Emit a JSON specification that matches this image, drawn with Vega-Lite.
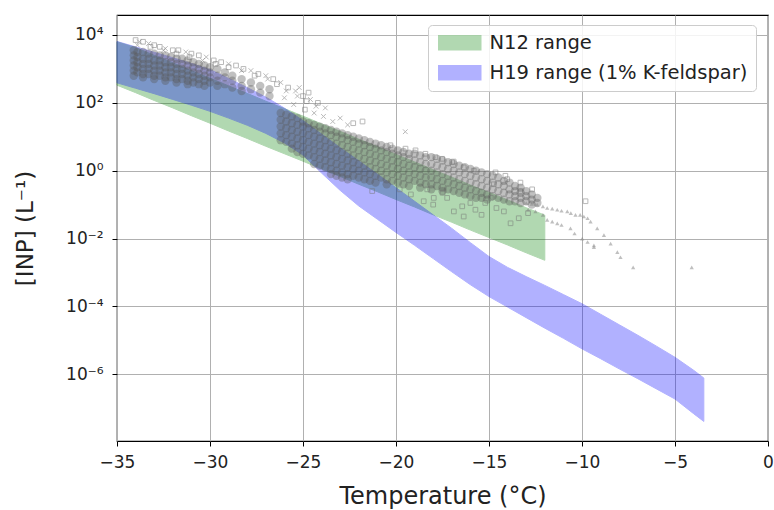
{
"$schema":"https://vega.github.io/schema/vega-lite/v6.json",
"width":651,"height":426,
"autosize":{"type":"none"},
"padding":{"left":117,"top":15,"right":6,"bottom":69},
"background":"white",
"config":{
"font":"DejaVu Sans",
"view":{"stroke":"#000000","strokeWidth":1.2},
"axis":{"grid":true,"gridColor":"#b0b0b0","gridWidth":1,"domain":false,"tickColor":"#000000","tickSize":5,"tickWidth":1,"labelColor":"#222222","titleColor":"#222222","labelFont":"DejaVu Sans","titleFont":"DejaVu Sans","titleFontWeight":"normal","labelFontSize":17,"titleFontSize":23,"zindex":1,"labelFlush":false}
},
"datasets":{
"bands":[
{"band":"N12 range","T":-35,"v":331.1,"v2":6310},
{"band":"N12 range","T":-34,"v":199.5,"v2":4266},
{"band":"N12 range","T":-33,"v":117.5,"v2":2512},
{"band":"N12 range","T":-32,"v":70.79,"v2":1514},
{"band":"N12 range","T":-31,"v":41.69,"v2":891.3},
{"band":"N12 range","T":-30,"v":25.12,"v2":537.0},
{"band":"N12 range","T":-29,"v":14.79,"v2":316.2},
{"band":"N12 range","T":-28,"v":8.913,"v2":190.5},
{"band":"N12 range","T":-27,"v":5.248,"v2":112.2},
{"band":"N12 range","T":-26,"v":3.162,"v2":67.61},
{"band":"N12 range","T":-25,"v":1.905,"v2":40.74},
{"band":"N12 range","T":-24,"v":1.122,"v2":23.99},
{"band":"N12 range","T":-23,"v":0.6761,"v2":14.45},
{"band":"N12 range","T":-22,"v":0.3981,"v2":8.511},
{"band":"N12 range","T":-21,"v":0.2399,"v2":5.129},
{"band":"N12 range","T":-20,"v":0.1413,"v2":3.020},
{"band":"N12 range","T":-19,"v":0.08511,"v2":1.820},
{"band":"N12 range","T":-18,"v":0.05012,"v2":1.072},
{"band":"N12 range","T":-17,"v":0.03020,"v2":0.6457},
{"band":"N12 range","T":-16,"v":0.01778,"v2":0.3802},
{"band":"N12 range","T":-15,"v":0.01072,"v2":0.2291},
{"band":"N12 range","T":-14,"v":0.006457,"v2":0.1380},
{"band":"N12 range","T":-13,"v":0.003802,"v2":0.08128},
{"band":"N12 range","T":-12,"v":0.002291,"v2":0.04898},
{"band":"H19 range (1% K-feldspar)","T":-35,"v":389.0,"v2":6457},
{"band":"H19 range (1% K-feldspar)","T":-34,"v":269.2,"v2":4467},
{"band":"H19 range (1% K-feldspar)","T":-33,"v":186.2,"v2":3090},
{"band":"H19 range (1% K-feldspar)","T":-32,"v":125.9,"v2":2138},
{"band":"H19 range (1% K-feldspar)","T":-31,"v":85.11,"v2":1445},
{"band":"H19 range (1% K-feldspar)","T":-30,"v":56.23,"v2":955.0},
{"band":"H19 range (1% K-feldspar)","T":-29,"v":35.48,"v2":524.8},
{"band":"H19 range (1% K-feldspar)","T":-28,"v":21.88,"v2":281.8},
{"band":"H19 range (1% K-feldspar)","T":-27,"v":12.59,"v2":147.9},
{"band":"H19 range (1% K-feldspar)","T":-26,"v":6.607,"v2":70.0},
{"band":"H19 range (1% K-feldspar)","T":-25,"v":2.884,"v2":30.0},
{"band":"H19 range (1% K-feldspar)","T":-24,"v":0.8511,"v2":12.0},
{"band":"H19 range (1% K-feldspar)","T":-23,"v":0.2630,"v2":4.786},
{"band":"H19 range (1% K-feldspar)","T":-22,"v":0.09120,"v2":1.950},
{"band":"H19 range (1% K-feldspar)","T":-21,"v":0.03715,"v2":0.7943},
{"band":"H19 range (1% K-feldspar)","T":-20,"v":0.01514,"v2":0.3162},
{"band":"H19 range (1% K-feldspar)","T":-19,"v":0.006310,"v2":0.1259},
{"band":"H19 range (1% K-feldspar)","T":-18,"v":0.002570,"v2":0.05012},
{"band":"H19 range (1% K-feldspar)","T":-17,"v":0.001047,"v2":0.01995},
{"band":"H19 range (1% K-feldspar)","T":-16,"v":4.365e-4,"v2":7.586e-3},
{"band":"H19 range (1% K-feldspar)","T":-15,"v":1.950e-4,"v2":2.951e-3},
{"band":"H19 range (1% K-feldspar)","T":-14,"v":9.550e-5,"v2":1.413e-3},
{"band":"H19 range (1% K-feldspar)","T":-13,"v":4.677e-5,"v2":7.586e-4},
{"band":"H19 range (1% K-feldspar)","T":-12,"v":2.291e-5,"v2":4.169e-4},
{"band":"H19 range (1% K-feldspar)","T":-11,"v":1.148e-5,"v2":2.239e-4},
{"band":"H19 range (1% K-feldspar)","T":-10,"v":5.623e-6,"v2":1.202e-4},
{"band":"H19 range (1% K-feldspar)","T":-9,"v":2.884e-6,"v2":5.888e-5},
{"band":"H19 range (1% K-feldspar)","T":-8,"v":1.445e-6,"v2":2.884e-5},
{"band":"H19 range (1% K-feldspar)","T":-7,"v":7.413e-7,"v2":1.413e-5},
{"band":"H19 range (1% K-feldspar)","T":-6,"v":3.715e-7,"v2":6.761e-6},
{"band":"H19 range (1% K-feldspar)","T":-5,"v":1.862e-7,"v2":3.162e-6},
{"band":"H19 range (1% K-feldspar)","T":-4,"v":6.918e-8,"v2":1.318e-6},
{"band":"H19 range (1% K-feldspar)","T":-3.45,"v":4.074e-8,"v2":7.762e-7}
],
"points":[
{"T":-34.1,"v":3550,"m":"f"},{"T":-34.1,"v":2510,"m":"f"},{"T":-34.1,"v":1780,"m":"f"},{"T":-34.1,"v":1260,"m":"f"},{"T":-34.1,"v":891,"m":"f"},{"T":-34.1,"v":631,"m":"f"},
{"T":-33.9,"v":3160,"m":"f"},{"T":-33.9,"v":2240,"m":"f"},{"T":-33.9,"v":1580,"m":"f"},{"T":-33.9,"v":1120,"m":"f"},{"T":-33.9,"v":794,"m":"f"},
{"T":-33.6,"v":3160,"m":"f"},{"T":-33.6,"v":2000,"m":"f"},{"T":-33.6,"v":1410,"m":"f"},{"T":-33.6,"v":1000,"m":"f"},{"T":-33.6,"v":708,"m":"f"},{"T":-33.6,"v":562,"m":"f"},
{"T":-33.3,"v":2820,"m":"f"},{"T":-33.3,"v":2000,"m":"f"},{"T":-33.3,"v":1410,"m":"f"},{"T":-33.3,"v":1000,"m":"f"},{"T":-33.3,"v":708,"m":"f"},
{"T":-33.0,"v":2820,"m":"f"},{"T":-33.0,"v":1780,"m":"f"},{"T":-33.0,"v":1260,"m":"f"},{"T":-33.0,"v":891,"m":"f"},{"T":-33.0,"v":631,"m":"f"},{"T":-33.0,"v":501,"m":"f"},
{"T":-32.7,"v":2510,"m":"f"},{"T":-32.7,"v":1780,"m":"f"},{"T":-32.7,"v":1260,"m":"f"},{"T":-32.7,"v":891,"m":"f"},{"T":-32.7,"v":631,"m":"f"},
{"T":-32.4,"v":2510,"m":"f"},{"T":-32.4,"v":1580,"m":"f"},{"T":-32.4,"v":1120,"m":"f"},{"T":-32.4,"v":794,"m":"f"},{"T":-32.4,"v":562,"m":"f"},{"T":-32.4,"v":447,"m":"f"},
{"T":-32.1,"v":2240,"m":"f"},{"T":-32.1,"v":1580,"m":"f"},{"T":-32.1,"v":1120,"m":"f"},{"T":-32.1,"v":794,"m":"f"},{"T":-32.1,"v":562,"m":"f"},
{"T":-31.8,"v":2000,"m":"f"},{"T":-31.8,"v":1410,"m":"f"},{"T":-31.8,"v":1000,"m":"f"},{"T":-31.8,"v":708,"m":"f"},{"T":-31.8,"v":501,"m":"f"},{"T":-31.8,"v":398,"m":"f"},
{"T":-31.5,"v":2000,"m":"f"},{"T":-31.5,"v":1410,"m":"f"},{"T":-31.5,"v":1000,"m":"f"},{"T":-31.5,"v":708,"m":"f"},{"T":-31.5,"v":501,"m":"f"},
{"T":-31.2,"v":1780,"m":"f"},{"T":-31.2,"v":1260,"m":"f"},{"T":-31.2,"v":891,"m":"f"},{"T":-31.2,"v":631,"m":"f"},{"T":-31.2,"v":447,"m":"f"},{"T":-31.2,"v":355,"m":"f"},
{"T":-30.9,"v":1580,"m":"f"},{"T":-30.9,"v":1120,"m":"f"},{"T":-30.9,"v":794,"m":"f"},{"T":-30.9,"v":562,"m":"f"},{"T":-30.9,"v":398,"m":"f"},
{"T":-30.6,"v":1410,"m":"f"},{"T":-30.6,"v":1000,"m":"f"},{"T":-30.6,"v":708,"m":"f"},{"T":-30.6,"v":501,"m":"f"},{"T":-30.6,"v":355,"m":"f"},
{"T":-30.3,"v":1260,"m":"f"},{"T":-30.3,"v":891,"m":"f"},{"T":-30.3,"v":631,"m":"f"},{"T":-30.3,"v":447,"m":"f"},{"T":-30.3,"v":316,"m":"f"},
{"T":-30.0,"v":1120,"m":"f"},{"T":-30.0,"v":794,"m":"f"},{"T":-30.0,"v":562,"m":"f"},{"T":-30.0,"v":398,"m":"f"},
{"T":-29.6,"v":1000,"m":"f"},{"T":-29.6,"v":631,"m":"f"},{"T":-29.6,"v":447,"m":"f"},{"T":-29.6,"v":316,"m":"f"},
{"T":-29.2,"v":794,"m":"f"},{"T":-29.2,"v":562,"m":"f"},{"T":-29.2,"v":355,"m":"f"},
{"T":-28.8,"v":631,"m":"f"},{"T":-28.8,"v":447,"m":"f"},{"T":-28.8,"v":282,"m":"f"},
{"T":-28.3,"v":501,"m":"f"},{"T":-28.3,"v":316,"m":"f"},{"T":-28.3,"v":224,"m":"f"},
{"T":-27.8,"v":398,"m":"f"},{"T":-27.8,"v":251,"m":"f"},
{"T":-27.3,"v":316,"m":"f"},{"T":-27.3,"v":200,"m":"f"},
{"T":-26.8,"v":251,"m":"f"},{"T":-26.8,"v":158,"m":"f"},
{"T":-34.0,"v":7080,"m":"o"},{"T":-33.8,"v":6310,"m":"x"},{"T":-33.6,"v":6310,"m":"o"},{"T":-33.3,"v":5620,"m":"x"},{"T":-33.0,"v":5010,"m":"o"},{"T":-32.7,"v":4470,"m":"o"},{"T":-32.4,"v":3980,"m":"x"},{"T":-32.0,"v":3550,"m":"o"},{"T":-31.7,"v":3550,"m":"o"},{"T":-31.3,"v":3160,"m":"x"},{"T":-31.0,"v":2820,"m":"o"},{"T":-30.6,"v":2510,"m":"o"},{"T":-30.2,"v":2240,"m":"x"},{"T":-29.8,"v":1780,"m":"o"},{"T":-29.4,"v":1580,"m":"o"},{"T":-29.0,"v":1410,"m":"x"},{"T":-28.6,"v":1260,"m":"o"},{"T":-28.2,"v":1000,"m":"o"},{"T":-27.8,"v":891,"m":"x"},{"T":-27.4,"v":708,"m":"o"},{"T":-27.0,"v":631,"m":"x"},{"T":-26.6,"v":501,"m":"o"},{"T":-26.2,"v":398,"m":"x"},{"T":-25.8,"v":282,"m":"o"},{"T":-25.4,"v":224,"m":"x"},{"T":-25.0,"v":158,"m":"o"},{"T":-24.6,"v":126,"m":"x"},{"T":-24.2,"v":100,"m":"o"},{"T":-23.8,"v":70.8,"m":"x"},{"T":-23.4,"v":28.2,"m":"x"},{"T":-22.6,"v":22.4,"m":"x"},{"T":-21.8,"v":28.2,"m":"o"},{"T":-19.5,"v":14.1,"m":"x"},
{"T":-33.9,"v":5010,"m":"x"},{"T":-33.2,"v":4470,"m":"o"},{"T":-32.5,"v":3550,"m":"x"},{"T":-31.8,"v":2820,"m":"o"},{"T":-31.1,"v":2240,"m":"o"},{"T":-30.4,"v":1780,"m":"x"},{"T":-29.7,"v":1410,"m":"o"},{"T":-29.0,"v":1120,"m":"o"},{"T":-28.3,"v":891,"m":"x"},{"T":-27.6,"v":631,"m":"o"},{"T":-26.9,"v":501,"m":"x"},{"T":-26.4,"v":355,"m":"o"},{"T":-25.9,"v":224,"m":"x"},{"T":-25.3,"v":158,"m":"x"},{"T":-24.8,"v":112,"m":"o"},{"T":-24.3,"v":79.4,"m":"x"},
{"T":-26.0,"v":141,"m":"x"},{"T":-25.5,"v":89.1,"m":"x"},{"T":-24.9,"v":63.1,"m":"o"},{"T":-24.4,"v":50.1,"m":"x"},{"T":-23.9,"v":39.8,"m":"x"},{"T":-23.0,"v":35.5,"m":"x"},{"T":-22.3,"v":25.1,"m":"o"},{"T":-25.2,"v":282,"m":"x"},{"T":-24.7,"v":200,"m":"o"},
{"T":-26.2,"v":50.1,"m":"f"},{"T":-26.2,"v":31.6,"m":"f"},{"T":-26.2,"v":20,"m":"f"},{"T":-26.2,"v":12.6,"m":"f"},{"T":-26.2,"v":7.94,"m":"f"},
{"T":-25.9,"v":44.7,"m":"f"},{"T":-25.9,"v":28.2,"m":"f"},{"T":-25.9,"v":17.8,"m":"f"},{"T":-25.9,"v":11.2,"m":"f"},{"T":-25.9,"v":7.08,"m":"f"},
{"T":-25.6,"v":39.8,"m":"f"},{"T":-25.6,"v":25.1,"m":"f"},{"T":-25.6,"v":15.8,"m":"f"},{"T":-25.6,"v":10,"m":"f"},{"T":-25.6,"v":6.31,"m":"f"},{"T":-25.6,"v":4.47,"m":"f"},
{"T":-25.3,"v":35.5,"m":"f"},{"T":-25.3,"v":22.4,"m":"f"},{"T":-25.3,"v":14.1,"m":"f"},{"T":-25.3,"v":8.91,"m":"f"},{"T":-25.3,"v":5.62,"m":"f"},{"T":-25.3,"v":3.55,"m":"f"},
{"T":-25.0,"v":28.2,"m":"f"},{"T":-25.0,"v":20,"m":"f"},{"T":-25.0,"v":12.6,"m":"f"},{"T":-25.0,"v":7.94,"m":"f"},{"T":-25.0,"v":5.01,"m":"f"},{"T":-25.0,"v":3.16,"m":"f"},
{"T":-24.7,"v":25.1,"m":"f"},{"T":-24.7,"v":17.8,"m":"f"},{"T":-24.7,"v":11.2,"m":"f"},{"T":-24.7,"v":7.08,"m":"f"},{"T":-24.7,"v":4.47,"m":"f"},{"T":-24.7,"v":2.82,"m":"f"},
{"T":-24.4,"v":22.4,"m":"f"},{"T":-24.4,"v":15.8,"m":"f"},{"T":-24.4,"v":10,"m":"f"},{"T":-24.4,"v":6.31,"m":"f"},{"T":-24.4,"v":3.98,"m":"f"},{"T":-24.4,"v":2.51,"m":"f"},{"T":-24.4,"v":1.58,"m":"f"},
{"T":-24.1,"v":20,"m":"f"},{"T":-24.1,"v":14.1,"m":"f"},{"T":-24.1,"v":8.91,"m":"f"},{"T":-24.1,"v":5.62,"m":"f"},{"T":-24.1,"v":3.55,"m":"f"},{"T":-24.1,"v":2.24,"m":"f"},{"T":-24.1,"v":1.41,"m":"f"},
{"T":-23.8,"v":17.8,"m":"f"},{"T":-23.8,"v":12.6,"m":"f"},{"T":-23.8,"v":7.94,"m":"f"},{"T":-23.8,"v":5.01,"m":"f"},{"T":-23.8,"v":3.16,"m":"f"},{"T":-23.8,"v":2,"m":"f"},{"T":-23.8,"v":1.26,"m":"f"},
{"T":-23.5,"v":15.8,"m":"f"},{"T":-23.5,"v":11.2,"m":"f"},{"T":-23.5,"v":7.08,"m":"f"},{"T":-23.5,"v":4.47,"m":"f"},{"T":-23.5,"v":2.82,"m":"f"},{"T":-23.5,"v":1.78,"m":"f"},{"T":-23.5,"v":1.12,"m":"f"},{"T":-23.5,"v":0.794,"m":"f"},
{"T":-23.2,"v":14.1,"m":"f"},{"T":-23.2,"v":10,"m":"f"},{"T":-23.2,"v":6.31,"m":"f"},{"T":-23.2,"v":3.98,"m":"f"},{"T":-23.2,"v":2.51,"m":"f"},{"T":-23.2,"v":1.58,"m":"f"},{"T":-23.2,"v":1,"m":"f"},{"T":-23.2,"v":0.708,"m":"f"},
{"T":-22.9,"v":12.6,"m":"f"},{"T":-22.9,"v":8.91,"m":"f"},{"T":-22.9,"v":5.62,"m":"f"},{"T":-22.9,"v":3.55,"m":"f"},{"T":-22.9,"v":2.24,"m":"f"},{"T":-22.9,"v":1.41,"m":"f"},{"T":-22.9,"v":0.891,"m":"f"},{"T":-22.9,"v":0.631,"m":"f"},
{"T":-22.6,"v":11.2,"m":"f"},{"T":-22.6,"v":7.94,"m":"f"},{"T":-22.6,"v":5.01,"m":"f"},{"T":-22.6,"v":3.16,"m":"f"},{"T":-22.6,"v":2,"m":"f"},{"T":-22.6,"v":1.26,"m":"f"},{"T":-22.6,"v":0.794,"m":"f"},{"T":-22.6,"v":0.562,"m":"f"},
{"T":-22.3,"v":10,"m":"f"},{"T":-22.3,"v":7.08,"m":"f"},{"T":-22.3,"v":4.47,"m":"f"},{"T":-22.3,"v":2.82,"m":"f"},{"T":-22.3,"v":1.78,"m":"f"},{"T":-22.3,"v":1.12,"m":"f"},{"T":-22.3,"v":0.708,"m":"f"},
{"T":-22.0,"v":8.91,"m":"f"},{"T":-22.0,"v":6.31,"m":"f"},{"T":-22.0,"v":3.98,"m":"f"},{"T":-22.0,"v":2.51,"m":"f"},{"T":-22.0,"v":1.58,"m":"f"},{"T":-22.0,"v":1,"m":"f"},{"T":-22.0,"v":0.631,"m":"f"},
{"T":-21.7,"v":7.94,"m":"f"},{"T":-21.7,"v":5.62,"m":"f"},{"T":-21.7,"v":3.55,"m":"f"},{"T":-21.7,"v":2.24,"m":"f"},{"T":-21.7,"v":1.41,"m":"f"},{"T":-21.7,"v":0.891,"m":"f"},{"T":-21.7,"v":0.562,"m":"f"},
{"T":-21.4,"v":7.08,"m":"f"},{"T":-21.4,"v":5.01,"m":"f"},{"T":-21.4,"v":3.16,"m":"f"},{"T":-21.4,"v":2,"m":"f"},{"T":-21.4,"v":1.26,"m":"f"},{"T":-21.4,"v":0.794,"m":"f"},{"T":-21.4,"v":0.501,"m":"f"},
{"T":-21.1,"v":6.31,"m":"f"},{"T":-21.1,"v":4.47,"m":"f"},{"T":-21.1,"v":2.82,"m":"f"},{"T":-21.1,"v":1.78,"m":"f"},{"T":-21.1,"v":1.12,"m":"f"},{"T":-21.1,"v":0.708,"m":"f"},{"T":-21.1,"v":0.447,"m":"f"},
{"T":-20.8,"v":5.62,"m":"f"},{"T":-20.8,"v":3.98,"m":"f"},{"T":-20.8,"v":2.51,"m":"f"},{"T":-20.8,"v":1.58,"m":"f"},{"T":-20.8,"v":1,"m":"f"},{"T":-20.8,"v":0.631,"m":"f"},
{"T":-20.5,"v":5.01,"m":"f"},{"T":-20.5,"v":3.55,"m":"f"},{"T":-20.5,"v":2.24,"m":"f"},{"T":-20.5,"v":1.41,"m":"f"},{"T":-20.5,"v":0.891,"m":"f"},{"T":-20.5,"v":0.562,"m":"f"},{"T":-20.5,"v":0.398,"m":"f"},
{"T":-20.2,"v":4.47,"m":"f"},{"T":-20.2,"v":3.16,"m":"f"},{"T":-20.2,"v":2,"m":"f"},{"T":-20.2,"v":1.26,"m":"f"},{"T":-20.2,"v":0.794,"m":"f"},{"T":-20.2,"v":0.501,"m":"f"},
{"T":-19.9,"v":3.98,"m":"f"},{"T":-19.9,"v":2.82,"m":"f"},{"T":-19.9,"v":1.78,"m":"f"},{"T":-19.9,"v":1.12,"m":"f"},{"T":-19.9,"v":0.708,"m":"f"},{"T":-19.9,"v":0.447,"m":"f"},
{"T":-19.6,"v":3.55,"m":"f"},{"T":-19.6,"v":2.51,"m":"f"},{"T":-19.6,"v":1.58,"m":"f"},{"T":-19.6,"v":1,"m":"f"},{"T":-19.6,"v":0.631,"m":"f"},{"T":-19.6,"v":0.398,"m":"f"},
{"T":-19.3,"v":3.16,"m":"f"},{"T":-19.3,"v":2.24,"m":"f"},{"T":-19.3,"v":1.41,"m":"f"},{"T":-19.3,"v":0.891,"m":"f"},{"T":-19.3,"v":0.562,"m":"f"},{"T":-19.3,"v":0.355,"m":"f"},
{"T":-19.0,"v":3.16,"m":"f"},{"T":-19.0,"v":2,"m":"f"},{"T":-19.0,"v":1.26,"m":"f"},{"T":-19.0,"v":0.794,"m":"f"},{"T":-19.0,"v":0.501,"m":"f"},
{"T":-18.7,"v":2.82,"m":"f"},{"T":-18.7,"v":1.78,"m":"f"},{"T":-18.7,"v":1.12,"m":"f"},{"T":-18.7,"v":0.708,"m":"f"},{"T":-18.7,"v":0.447,"m":"f"},{"T":-18.7,"v":0.316,"m":"f"},
{"T":-18.4,"v":2.51,"m":"f"},{"T":-18.4,"v":1.58,"m":"f"},{"T":-18.4,"v":1,"m":"f"},{"T":-18.4,"v":0.631,"m":"f"},{"T":-18.4,"v":0.398,"m":"f"},
{"T":-18.1,"v":2.51,"m":"f"},{"T":-18.1,"v":1.58,"m":"f"},{"T":-18.1,"v":1,"m":"f"},{"T":-18.1,"v":0.631,"m":"f"},{"T":-18.1,"v":0.398,"m":"f"},{"T":-18.1,"v":0.282,"m":"f"},
{"T":-17.8,"v":2.24,"m":"f"},{"T":-17.8,"v":1.41,"m":"f"},{"T":-17.8,"v":0.891,"m":"f"},{"T":-17.8,"v":0.562,"m":"f"},{"T":-17.8,"v":0.355,"m":"f"},
{"T":-17.5,"v":2,"m":"f"},{"T":-17.5,"v":1.26,"m":"f"},{"T":-17.5,"v":0.794,"m":"f"},{"T":-17.5,"v":0.501,"m":"f"},{"T":-17.5,"v":0.316,"m":"f"},{"T":-17.5,"v":0.251,"m":"f"},
{"T":-17.2,"v":1.78,"m":"f"},{"T":-17.2,"v":1.12,"m":"f"},{"T":-17.2,"v":0.708,"m":"f"},{"T":-17.2,"v":0.447,"m":"f"},{"T":-17.2,"v":0.282,"m":"f"},
{"T":-16.9,"v":1.58,"m":"f"},{"T":-16.9,"v":1,"m":"f"},{"T":-16.9,"v":0.631,"m":"f"},{"T":-16.9,"v":0.398,"m":"f"},{"T":-16.9,"v":0.251,"m":"f"},
{"T":-16.6,"v":1.41,"m":"f"},{"T":-16.6,"v":0.891,"m":"f"},{"T":-16.6,"v":0.562,"m":"f"},{"T":-16.6,"v":0.355,"m":"f"},{"T":-16.6,"v":0.224,"m":"f"},
{"T":-16.3,"v":1.26,"m":"f"},{"T":-16.3,"v":0.794,"m":"f"},{"T":-16.3,"v":0.501,"m":"f"},{"T":-16.3,"v":0.316,"m":"f"},{"T":-16.3,"v":0.2,"m":"f"},
{"T":-16.0,"v":1.12,"m":"f"},{"T":-16.0,"v":0.708,"m":"f"},{"T":-16.0,"v":0.447,"m":"f"},{"T":-16.0,"v":0.282,"m":"f"},{"T":-16.0,"v":0.178,"m":"f"},
{"T":-15.7,"v":1,"m":"f"},{"T":-15.7,"v":0.631,"m":"f"},{"T":-15.7,"v":0.398,"m":"f"},{"T":-15.7,"v":0.251,"m":"f"},{"T":-15.7,"v":0.158,"m":"f"},
{"T":-15.4,"v":0.891,"m":"f"},{"T":-15.4,"v":0.562,"m":"f"},{"T":-15.4,"v":0.355,"m":"f"},{"T":-15.4,"v":0.224,"m":"f"},{"T":-15.4,"v":0.158,"m":"f"},
{"T":-15.1,"v":0.794,"m":"f"},{"T":-15.1,"v":0.501,"m":"f"},{"T":-15.1,"v":0.316,"m":"f"},{"T":-15.1,"v":0.2,"m":"f"},{"T":-15.1,"v":0.141,"m":"f"},
{"T":-14.8,"v":0.708,"m":"f"},{"T":-14.8,"v":0.447,"m":"f"},{"T":-14.8,"v":0.282,"m":"f"},{"T":-14.8,"v":0.178,"m":"f"},
{"T":-14.5,"v":0.631,"m":"f"},{"T":-14.5,"v":0.398,"m":"f"},{"T":-14.5,"v":0.251,"m":"f"},{"T":-14.5,"v":0.158,"m":"f"},
{"T":-14.2,"v":0.501,"m":"f"},{"T":-14.2,"v":0.355,"m":"f"},{"T":-14.2,"v":0.224,"m":"f"},{"T":-14.2,"v":0.141,"m":"f"},
{"T":-13.9,"v":0.447,"m":"f"},{"T":-13.9,"v":0.282,"m":"f"},{"T":-13.9,"v":0.2,"m":"f"},{"T":-13.9,"v":0.126,"m":"f"},
{"T":-13.6,"v":0.355,"m":"f"},{"T":-13.6,"v":0.251,"m":"f"},{"T":-13.6,"v":0.178,"m":"f"},{"T":-13.6,"v":0.126,"m":"f"},
{"T":-13.3,"v":0.316,"m":"f"},{"T":-13.3,"v":0.224,"m":"f"},{"T":-13.3,"v":0.158,"m":"f"},{"T":-13.3,"v":0.112,"m":"f"},
{"T":-13.0,"v":0.251,"m":"f"},{"T":-13.0,"v":0.178,"m":"f"},{"T":-13.0,"v":0.126,"m":"f"},
{"T":-12.7,"v":0.2,"m":"f"},{"T":-12.7,"v":0.141,"m":"f"},{"T":-12.7,"v":0.1,"m":"f"},
{"T":-12.4,"v":0.158,"m":"f"},{"T":-12.4,"v":0.112,"m":"f"},
{"T":-20.3,"v":5.62,"m":"o"},{"T":-19.49,"v":4.47,"m":"o"},{"T":-18.95,"v":3.98,"m":"o"},{"T":-18.42,"v":3.16,"m":"o"},{"T":-17.88,"v":2.51,"m":"o"},{"T":-17.52,"v":2.24,"m":"o"},{"T":-16.98,"v":1.78,"m":"o"},{"T":-16.9,"v":1.86,"m":"o"},{"T":-16.36,"v":1.26,"m":"o"},{"T":-15.82,"v":1,"m":"o"},{"T":-14.65,"v":0.891,"m":"o"},{"T":-14.12,"v":0.708,"m":"o"},{"T":-14.02,"v":0.562,"m":"o"},{"T":-13.31,"v":0.447,"m":"o"},{"T":-13.31,"v":0.251,"m":"o"},{"T":-12.68,"v":0.282,"m":"o"},{"T":-14.74,"v":0.398,"m":"o"},{"T":-9.81,"v":0.126,"m":"o"},
{"T":-18.32,"v":0.282,"m":"o"},{"T":-17.97,"v":0.158,"m":"o"},{"T":-16.89,"v":0.0631,"m":"o"},{"T":-16.36,"v":0.0447,"m":"o"},{"T":-15.73,"v":0.0708,"m":"o"},{"T":-14.2,"v":0.0631,"m":"o"},{"T":-13.84,"v":0.0282,"m":"o"},{"T":-13.4,"v":0.0398,"m":"o"},{"T":-17.25,"v":0.158,"m":"o"},{"T":-16.44,"v":0.0891,"m":"o"},{"T":-21.28,"v":0.251,"m":"o"},{"T":-18.51,"v":0.126,"m":"o"},
{"T":-19.8,"v":0.282,"m":"o"},{"T":-19.2,"v":0.2,"m":"o"},{"T":-15.2,"v":0.112,"m":"o"},{"T":-14.6,"v":0.0794,"m":"o"},{"T":-12.9,"v":0.0562,"m":"o"},{"T":-18.0,"v":0.1,"m":"o"},{"T":-17.5,"v":0.224,"m":"o"},{"T":-16.0,"v":0.112,"m":"o"},{"T":-15.4,"v":0.0501,"m":"o"},{"T":-14.9,"v":0.158,"m":"o"},
{"T":-12.41,"v":0.1,"m":"t"},{"T":-11.87,"v":0.0794,"m":"t"},{"T":-11.33,"v":0.0708,"m":"t"},{"T":-10.79,"v":0.0631,"m":"t"},{"T":-10.35,"v":0.0501,"m":"t"},{"T":-9.9,"v":0.0447,"m":"t"},{"T":-9.54,"v":0.0316,"m":"t"},{"T":-9.18,"v":0.02,"m":"t"},{"T":-8.82,"v":0.0126,"m":"t"},{"T":-8.46,"v":0.00708,"m":"t"},{"T":-8.1,"v":0.00398,"m":"t"},{"T":-7.93,"v":0.00282,"m":"t"},{"T":-9.36,"v":0.00562,"m":"t"},
{"T":-11.87,"v":0.0355,"m":"t"},{"T":-11.33,"v":0.0282,"m":"t"},{"T":-10.62,"v":0.02,"m":"t"},{"T":-9.99,"v":0.01,"m":"t"},{"T":-9.36,"v":0.00631,"m":"t"},
{"T":-7.25,"v":0.00141,"m":"t"},{"T":-4.1,"v":0.00141,"m":"t"},
{"T":-13.0,"v":0.112,"m":"t"},{"T":-12.7,"v":0.105,"m":"t"},{"T":-12.1,"v":0.0891,"m":"t"},{"T":-11.6,"v":0.0759,"m":"t"},{"T":-11.1,"v":0.0661,"m":"t"},{"T":-10.6,"v":0.0562,"m":"t"},{"T":-10.1,"v":0.0501,"m":"t"},{"T":-9.7,"v":0.0398,"m":"t"},
{"T":-12.9,"v":0.0708,"m":"t"},{"T":-12.5,"v":0.0631,"m":"t"},{"T":-12.1,"v":0.0501,"m":"t"},{"T":-11.6,"v":0.0316,"m":"t"},{"T":-11.1,"v":0.0251,"m":"t"},{"T":-10.4,"v":0.0141,"m":"t"},{"T":-9.7,"v":0.00794,"m":"t"}
]
},
"encoding":{
"x":{"field":"T","type":"quantitative","scale":{"domain":[-35,0],"nice":false,"zero":false},"axis":{"values":[-35,-30,-25,-20,-15,-10,-5,0],"title":"Temperature (°C)","labelPadding":8,"titlePadding":14,"titleFontSize":24}},
"y":{"field":"v","type":"quantitative","scale":{"type":"log","domain":[1.081e-8,3.882e4],"nice":false},"axis":{"values":[1e-6,1e-4,1e-2,1,100,10000],"labelExpr":"round(log(datum.value)/LN10) == 4 ? '10⁴' : round(log(datum.value)/LN10) == 2 ? '10²' : round(log(datum.value)/LN10) == 0 ? '10⁰' : round(log(datum.value)/LN10) == -2 ? '10⁻²' : round(log(datum.value)/LN10) == -4 ? '10⁻⁴' : '10⁻⁶'","title":"[INP] (L⁻¹)","labelPadding":9,"titlePadding":28}}
},
"layer":[
{"data":{"name":"bands"},
"mark":{"type":"area","opacity":0.3,"strokeWidth":1},
"encoding":{
"y2":{"field":"v2"},
"color":{"field":"band","type":"nominal","scale":{"domain":["N12 range","H19 range (1% K-feldspar)"],"range":["#008000","#0000ff"]},
"legend":{"title":null,"orient":"none","legendX":311,"legendY":10,"fillColor":"rgba(255,255,255,0.85)","strokeColor":"#cccccc","cornerRadius":4,"padding":8,"labelFontSize":19.5,"labelFont":"DejaVu Sans","labelColor":"#222222","labelLimit":500,"symbolType":"M-3,-1H3V1H-3Z","symbolSize":196,"symbolOffset":14,"labelOffset":20,"rowPadding":9,"zindex":2}},
"stroke":{"field":"band","type":"nominal","scale":{"domain":["N12 range","H19 range (1% K-feldspar)"],"range":["#008000","#0000ff"]},"legend":null}
}},
{"data":{"name":"points"},"transform":[{"filter":"datum.m == 'f'"}],
"mark":{"type":"point","shape":"circle","filled":true,"size":70,"color":"#5a5a5a","opacity":0.38}},
{"data":{"name":"points"},"transform":[{"filter":"datum.m == 'o'"}],
"mark":{"type":"point","shape":"square","filled":false,"size":22,"color":"#757575","opacity":0.5,"strokeWidth":1}},
{"data":{"name":"points"},"transform":[{"filter":"datum.m == 'x'"}],
"mark":{"type":"point","shape":"M-1,-1L1,1M-1,1L1,-1","filled":false,"size":22,"color":"#757575","opacity":0.5,"strokeWidth":1}},
{"data":{"name":"points"},"transform":[{"filter":"datum.m == 't'"}],
"mark":{"type":"point","shape":"triangle-up","filled":true,"size":18,"color":"#808080","opacity":0.5}}
]
}
